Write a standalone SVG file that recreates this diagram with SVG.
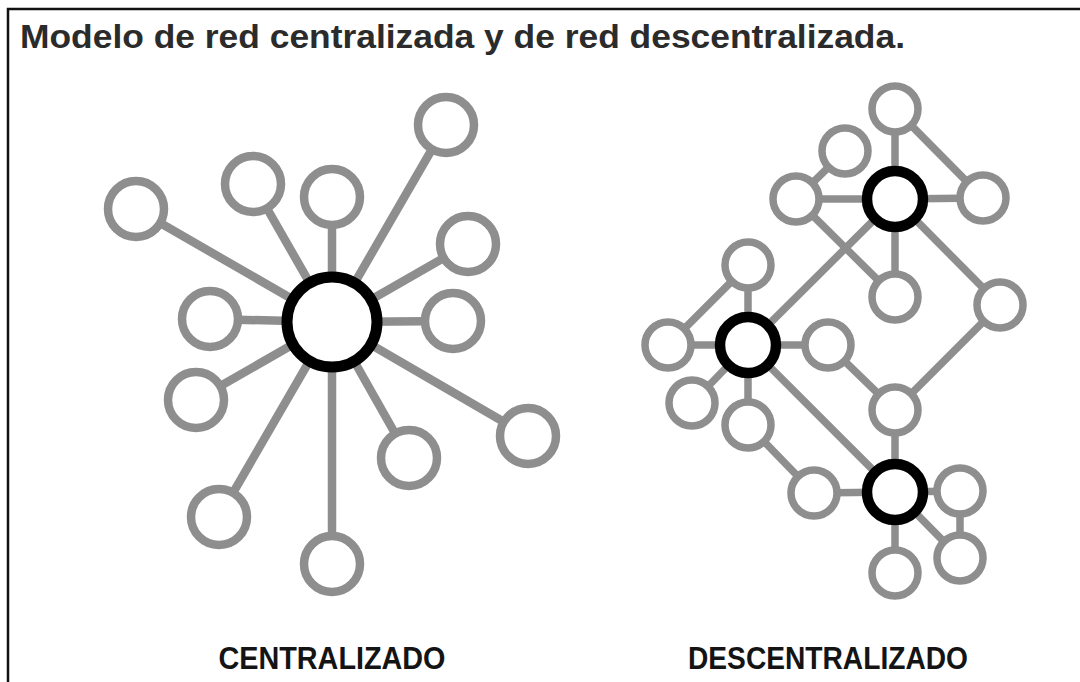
<svg xmlns="http://www.w3.org/2000/svg" width="1080" height="682" viewBox="0 0 1080 682">
<style>
.bg{fill:#ffffff}
.frame{fill:none;stroke:#111;stroke-width:2.5}
.title{font-family:"Liberation Sans",Arial,sans-serif;font-weight:bold;font-size:34px;fill:#2b2b2b}
.label{font-family:"Liberation Sans",Arial,sans-serif;font-weight:bold;font-size:31px;fill:#141414;text-anchor:middle}
.ln{stroke:#8e8e8e;stroke-width:8.5;stroke-linecap:butt}
.ln2{stroke:#8e8e8e;stroke-width:7.5}
.sat{fill:#fff;stroke:#8e8e8e;stroke-width:8.5}
.sat2{fill:#fff;stroke:#8e8e8e;stroke-width:7.5}
.hub{fill:#fff;stroke:#000;stroke-width:11}
</style>
<rect class="bg" x="0" y="0" width="1080" height="682"/>
<path class="frame" d="M8,682 V9 H1080"/>
<text class="title" x="20" y="48" textLength="885" lengthAdjust="spacingAndGlyphs">Modelo de red centralizada y de red descentralizada.</text>

<g id="connectors">
  <g id="central-links">
    <line class="ln" x1="332" y1="322" x2="136" y2="209"/>
    <line class="ln" x1="332" y1="322" x2="253" y2="184"/>
    <line class="ln" x1="332" y1="322" x2="332" y2="197"/>
    <line class="ln" x1="332" y1="322" x2="446" y2="125"/>
    <line class="ln" x1="332" y1="322" x2="468" y2="244"/>
    <line class="ln" x1="332" y1="322" x2="453" y2="321"/>
    <line class="ln" x1="332" y1="322" x2="528" y2="436"/>
    <line class="ln" x1="332" y1="322" x2="409" y2="458"/>
    <line class="ln" x1="332" y1="322" x2="332" y2="564"/>
    <line class="ln" x1="332" y1="322" x2="219" y2="517"/>
    <line class="ln" x1="332" y1="322" x2="196" y2="400"/>
    <line class="ln" x1="332" y1="322" x2="210" y2="319"/>
  </g>
  <g id="decentral-links">
    <line class="ln2" x1="895" y1="109" x2="895" y2="199"/>
    <line class="ln2" x1="895" y1="109" x2="983" y2="198"/>
    <line class="ln2" x1="895" y1="199" x2="983" y2="198"/>
    <line class="ln2" x1="895" y1="199" x2="796" y2="199"/>
    <line class="ln2" x1="845" y1="151" x2="796" y2="199"/>
    <line class="ln2" x1="796" y1="199" x2="895" y2="297"/>
    <line class="ln2" x1="895" y1="199" x2="895" y2="297"/>
    <line class="ln2" x1="895" y1="199" x2="748" y2="345"/>
    <line class="ln2" x1="895" y1="199" x2="1000" y2="305"/>
    <line class="ln2" x1="1000" y1="305" x2="895" y2="410"/>
    <line class="ln2" x1="748" y1="265" x2="748" y2="345"/>
    <line class="ln2" x1="748" y1="265" x2="668" y2="345"/>
    <line class="ln2" x1="668" y1="345" x2="748" y2="345"/>
    <line class="ln2" x1="748" y1="345" x2="828" y2="345"/>
    <line class="ln2" x1="748" y1="345" x2="692" y2="403"/>
    <line class="ln2" x1="748" y1="345" x2="748" y2="425"/>
    <line class="ln2" x1="748" y1="345" x2="895" y2="492"/>
    <line class="ln2" x1="828" y1="345" x2="895" y2="410"/>
    <line class="ln2" x1="895" y1="410" x2="895" y2="492"/>
    <line class="ln2" x1="748" y1="425" x2="814" y2="493"/>
    <line class="ln2" x1="814" y1="493" x2="895" y2="492"/>
    <line class="ln2" x1="895" y1="492" x2="960" y2="491"/>
    <line class="ln2" x1="895" y1="492" x2="960" y2="558"/>
    <line class="ln2" x1="960" y1="491" x2="960" y2="558"/>
    <line class="ln2" x1="895" y1="492" x2="895" y2="573"/>
  </g>
</g>

<g id="centralizado">
  <g id="c-hub"><circle class="hub" cx="332" cy="322" r="45"/></g>
  <g id="c1"><circle class="sat" cx="136" cy="209" r="28"/></g>
  <g id="c2"><circle class="sat" cx="253" cy="184" r="28"/></g>
  <g id="c3"><circle class="sat" cx="332" cy="197" r="28"/></g>
  <g id="c4"><circle class="sat" cx="446" cy="125" r="28"/></g>
  <g id="c5"><circle class="sat" cx="468" cy="244" r="28"/></g>
  <g id="c6"><circle class="sat" cx="453" cy="321" r="28"/></g>
  <g id="c7"><circle class="sat" cx="528" cy="436" r="28"/></g>
  <g id="c8"><circle class="sat" cx="409" cy="458" r="28"/></g>
  <g id="c9"><circle class="sat" cx="332" cy="564" r="28"/></g>
  <g id="c10"><circle class="sat" cx="219" cy="517" r="28"/></g>
  <g id="c11"><circle class="sat" cx="196" cy="400" r="28"/></g>
  <g id="c12"><circle class="sat" cx="210" cy="319" r="28"/></g>
</g>

<g id="descentralizado">
  <g id="hubA"><circle class="hub" cx="895" cy="199" r="28" style="stroke-width:10.5"/></g>
  <g id="hubB"><circle class="hub" cx="748" cy="345" r="28" style="stroke-width:10.5"/></g>
  <g id="hubC"><circle class="hub" cx="895" cy="492" r="28" style="stroke-width:10.5"/></g>
  <g id="d1"><circle class="sat2" cx="895" cy="109" r="23"/></g>
  <g id="d2"><circle class="sat2" cx="845" cy="151" r="23"/></g>
  <g id="d3"><circle class="sat2" cx="796" cy="199" r="23"/></g>
  <g id="d4"><circle class="sat2" cx="983" cy="198" r="23"/></g>
  <g id="d5"><circle class="sat2" cx="895" cy="297" r="23"/></g>
  <g id="d6"><circle class="sat2" cx="1000" cy="305" r="23"/></g>
  <g id="d7"><circle class="sat2" cx="748" cy="265" r="23"/></g>
  <g id="d8"><circle class="sat2" cx="668" cy="345" r="23"/></g>
  <g id="d9"><circle class="sat2" cx="828" cy="345" r="23"/></g>
  <g id="d10"><circle class="sat2" cx="692" cy="403" r="23"/></g>
  <g id="d11"><circle class="sat2" cx="748" cy="425" r="23"/></g>
  <g id="d12"><circle class="sat2" cx="895" cy="410" r="23"/></g>
  <g id="d13"><circle class="sat2" cx="814" cy="493" r="23"/></g>
  <g id="d14"><circle class="sat2" cx="960" cy="491" r="23"/></g>
  <g id="d15"><circle class="sat2" cx="960" cy="558" r="23"/></g>
  <g id="d16"><circle class="sat2" cx="895" cy="573" r="23"/></g>
</g>

<text class="label" x="332" y="669" textLength="227" lengthAdjust="spacingAndGlyphs">CENTRALIZADO</text>
<text class="label" x="828" y="669" textLength="280" lengthAdjust="spacingAndGlyphs">DESCENTRALIZADO</text>
</svg>
